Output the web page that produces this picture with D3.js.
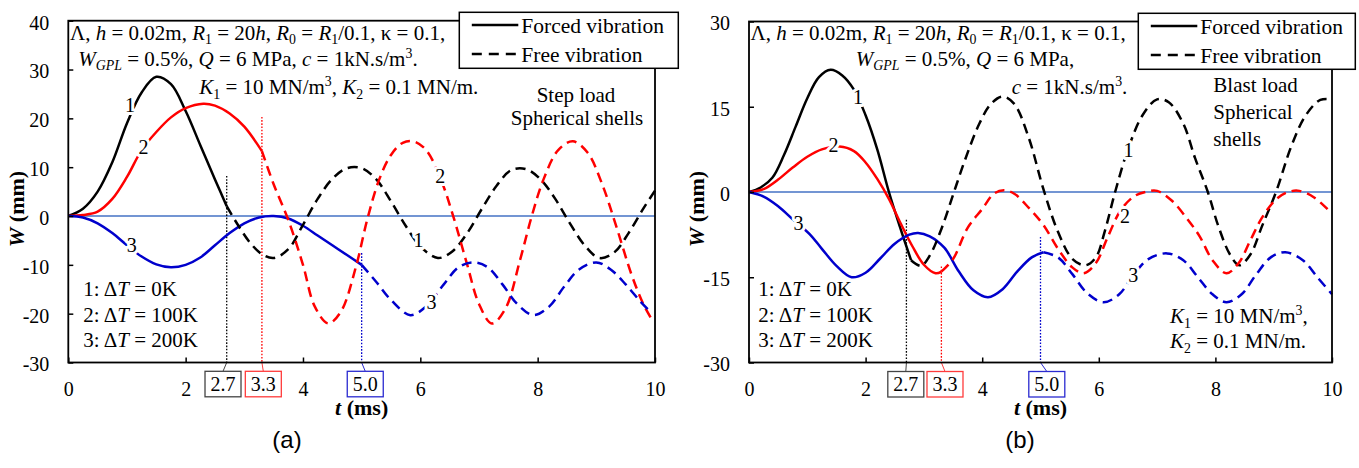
<!DOCTYPE html>
<html><head><meta charset="utf-8">
<script src="https://cdn.jsdelivr.net/npm/d3@7"></script>
<style>
body{margin:0;background:#fff}
svg{display:block}
text{font-family:"Liberation Serif","Times New Roman",Times,"DejaVu Serif",serif;fill:#000}
</style>
</head><body>
<svg id="chart" width="1359" height="468" font-family="'Liberation Serif','Times New Roman',Times,serif"></svg>
<script>
// ---------------- data ----------------
const xTicks = [0, 2, 4, 6, 8, 10];
const yTicksA = [-30, -20, -10, 0, 10, 20, 30, 40];
const yTicksB = [-30, -15, 0, 15, 30];
const switchTimes = [2.7, 3.3, 5.0];
const switchLabels = ["2.7", "3.3", "5.0"];
const curveNames = ["1", "2", "3"];
const deltaTs = ["0K", "100K", "200K"];
const seriesColors = ["#000000", "#ff0000", "#0000cc"];
const boxColors = ["#444444", "#ff3b3b", "#2a2ad0"];
const legendLabels = ["Forced vibration", "Free vibration"];

// panel (a): step load  [t (ms), W (mm)]
const aForced1 = [[0,0],[0.25,1.5],[0.5,5],[0.75,11],[1.0,19],[1.25,25.3],[1.5,28.5],[1.75,27],[2.0,21.5],[2.25,14.5],[2.5,7.5],[2.7,2]];
const aFree1 = [[2.7,2],[2.9,-2],[3.1,-5.5],[3.3,-7.8],[3.5,-8.6],[3.75,-6.8],[4.0,-1.8],[4.25,3.5],[4.5,7.6],[4.75,9.8],[5.0,9.8],[5.25,7.5],[5.5,3],[5.75,-2],[6.0,-6.2],[6.3,-8.6],[6.55,-7.2],[6.8,-3.5],[7.05,1.5],[7.3,6.2],[7.55,9.4],[7.8,9.6],[8.05,7.5],[8.3,3.5],[8.55,-1.5],[8.8,-6],[9.05,-8.6],[9.3,-7.5],[9.55,-3.5],[9.8,1.5],[10.0,5.2]];
const aForced2 = [[0,0],[0.25,0.2],[0.5,0.9],[0.75,3.5],[1.0,8],[1.25,13.5],[1.5,17.2],[1.75,20.2],[2.0,22.1],[2.3,23],[2.5,22.6],[2.75,21],[3.0,18.3],[3.3,13.3]];
const aFree2 = [[3.3,13.3],[3.5,6.5],[3.75,-0.8],[4.0,-10],[4.2,-18.5],[4.43,-22],[4.65,-19.5],[4.9,-10.5],[5.1,-0.5],[5.3,7.5],[5.5,12.5],[5.7,15],[5.88,15.3],[6.1,13.5],[6.35,7.5],[6.56,0],[6.8,-10],[7.0,-18],[7.22,-22],[7.45,-19],[7.7,-9],[7.9,0],[8.1,7.5],[8.35,13.5],[8.6,15.3],[8.85,13],[9.1,6.5],[9.35,-2.5],[9.6,-12],[9.8,-18],[9.95,-21.3]];
const aForced3 = [[0,0],[0.25,-0.3],[0.5,-1.5],[0.75,-3.5],[1.0,-6],[1.25,-8.3],[1.5,-9.9],[1.75,-10.5],[2.0,-10],[2.25,-8.5],[2.5,-6],[2.75,-3.5],[3.0,-1.5],[3.25,-0.3],[3.5,0],[3.75,-0.5],[4.0,-2],[4.25,-4],[4.5,-6],[4.75,-8],[5.0,-10]];
const aFree3 = [[5.0,-10],[5.25,-13.5],[5.5,-17.2],[5.83,-20.3],[6.1,-18.5],[6.4,-14],[6.65,-10.5],[6.9,-9.5],[7.15,-10.5],[7.4,-14],[7.65,-18],[7.93,-20.3],[8.2,-18.5],[8.45,-14.5],[8.7,-11],[9.0,-9.5],[9.25,-11],[9.5,-14],[9.75,-17.5],[9.95,-20]];
const aDropTops = [8.2, 20.3, -7.6];

// panel (b): blast load
const bForced1 = [[0,0],[0.2,0.8],[0.4,2.5],[0.6,6.5],[0.8,11.5],[1.0,16.5],[1.2,20.2],[1.4,21.5],[1.6,20.5],[1.8,18],[2.0,13.5],[2.2,7.5],[2.4,0],[2.6,-6.5],[2.78,-12]];
const bFree1 = [[2.78,-12],[2.95,-13],[3.1,-11.2],[3.3,-6.5],[3.5,-0.5],[3.7,5.5],[3.95,12],[4.15,15.5],[4.35,16.8],[4.55,15.5],[4.8,9.5],[5.05,0.5],[5.3,-7],[5.55,-11.8],[5.77,-12.9],[5.95,-11.5],[6.1,-7],[6.28,0],[6.5,7.5],[6.75,13.5],[7.0,16.3],[7.2,15.8],[7.45,12],[7.65,6],[7.87,0],[8.05,-6],[8.25,-11],[8.41,-12.9],[8.6,-11],[8.8,-6],[9.04,0],[9.3,8],[9.55,13.5],[9.8,16.2],[10,16.3]];
const bForced2 = [[0,0],[0.25,0.5],[0.5,2.2],[0.75,4.3],[1.0,6.2],[1.25,7.5],[1.55,8],[1.8,7.2],[2.0,5.2],[2.2,2.3],[2.4,-1.2],[2.6,-5.5],[2.8,-9.5],[3.0,-12.8],[3.2,-14.3],[3.3,-14]];
const bFree2 = [[3.3,-14],[3.5,-11.8],[3.75,-6.3],[4.0,-3],[4.2,-0.3],[4.37,0.3],[4.55,-0.3],[4.8,-2.8],[5.05,-5.8],[5.3,-10],[5.55,-13.3],[5.74,-14.3],[5.95,-12.5],[6.15,-8],[6.37,-3.3],[6.6,-0.8],[6.8,0],[7.0,0.2],[7.25,-1.5],[7.5,-4.5],[7.73,-7.8],[7.95,-12],[8.19,-14.3],[8.4,-12.5],[8.6,-8.5],[8.8,-4.5],[9.05,-1.2],[9.25,0],[9.44,0.2],[9.7,-1],[9.95,-3.3]];
const bForced3 = [[0,0],[0.25,-0.8],[0.5,-2.5],[0.75,-4.8],[1.04,-7.4],[1.25,-10],[1.5,-13],[1.76,-15],[2.0,-14.2],[2.25,-11.7],[2.5,-9.1],[2.75,-7.5],[2.9,-7.2],[3.1,-7.8],[3.35,-9.8],[3.6,-14],[3.85,-17.3],[4.1,-18.5],[4.35,-17.1],[4.6,-14],[4.85,-11.5],[5.05,-10.6]];
const bFree3 = [[5.05,-10.6],[5.3,-11.5],[5.55,-14.5],[5.8,-17.8],[6.08,-19.4],[6.35,-18],[6.6,-14.5],[6.85,-11.8],[7.17,-10.8],[7.45,-12],[7.7,-15],[7.95,-18],[8.19,-19.4],[8.45,-18],[8.7,-14.5],[8.95,-11.5],[9.2,-10.6],[9.5,-12],[9.75,-15],[10,-18]];
const bDropTops = [-4.9, -13.1, -7.9];

// ---------------- helpers ----------------
const svg = d3.select("#chart");

function rich(sel, parts, size) {
  let shift = 0;
  parts.forEach(p => {
    const s = p[0], f = p[1] || "";
    let target = 0, fs = size;
    if (f.includes("s")) { target = size * 0.22; fs = size * 0.66; }
    if (f.includes("p")) { target = -size * 0.38; fs = size * 0.66; }
    const ts = sel.append("tspan").text(s).attr("font-size", fs);
    if (target - shift !== 0) ts.attr("dy", target - shift);
    shift = target;
    if (f.includes("i")) ts.attr("font-style", "italic");
  });
  return sel;
}

function panel(cfg) {
  const g = svg.append("g");
  const x = d3.scaleLinear().domain([0, 10]).range([cfg.left, cfg.right]);
  const y = d3.scaleLinear().domain(cfg.yDomain).range([cfg.bottom, cfg.top]);
  const line = d3.line().x(d => x(d[0])).y(d => y(d[1])).curve(d3.curveCatmullRom.alpha(0.5));

  // zero line
  g.append("line").attr("x1", x(0)).attr("x2", x(10)).attr("y1", y(0)).attr("y2", y(0))
    .attr("stroke", "#4472c4").attr("stroke-width", 1.6);

  // dotted drop lines + boxes
  switchTimes.forEach((t, i) => {
    const xx = x(t);
    g.append("line").attr("x1", xx).attr("x2", xx).attr("y1", y(cfg.dropTops[i])).attr("y2", cfg.bottom)
      .attr("stroke", seriesColors[i]).attr("stroke-width", 1.3).attr("stroke-dasharray", "1.6,1.6");
    const bx = xx + cfg.boxOffsets[i];
    g.append("line").attr("x1", xx).attr("x2", bx).attr("y1", cfg.bottom).attr("y2", cfg.boxTop)
      .attr("stroke", boxColors[i]).attr("stroke-width", 1);
    g.append("rect").attr("x", bx - 18).attr("y", cfg.boxTop).attr("width", 36).attr("height", 25.5)
      .attr("fill", "#fff").attr("stroke", boxColors[i]).attr("stroke-width", 1.3);
    g.append("text").attr("x", bx).attr("y", cfg.boxTop + 19.5).attr("text-anchor", "middle")
      .attr("font-size", 20).text(switchLabels[i]);
  });

  // curves
  cfg.forced.forEach((d, i) => g.append("path").attr("d", line(d)).attr("fill", "none")
    .attr("stroke", seriesColors[i]).attr("stroke-width", 2.5));
  cfg.free.forEach((d, i) => g.append("path").attr("d", line(d)).attr("fill", "none")
    .attr("stroke", seriesColors[i]).attr("stroke-width", 2.5).attr("stroke-dasharray", "10,6"));

  // curve labels
  cfg.labels.forEach((l, k) => {
    g.append("text").attr("x", x(l[0])).attr("y", y(l[1]) + 7).attr("text-anchor", "middle")
      .attr("font-size", 20).attr("stroke", "#fff").attr("stroke-width", 6).attr("paint-order", "stroke")
      .attr("stroke-linejoin", "round").text(curveNames[k % 3]);
  });

  // axes
  const fmt = d => String(d);
  const ya = g.append("g").attr("transform", `translate(${cfg.left},0)`)
    .call(d3.axisLeft(y).tickValues(cfg.yTicks).tickSize(-5).tickPadding(19).tickFormat(fmt));
  const xa = g.append("g").attr("transform", `translate(0,${cfg.bottom})`)
    .call(d3.axisBottom(x).tickValues(xTicks).tickSize(-5).tickPadding(19.5).tickFormat(fmt));
  [ya, xa].forEach(a => {
    a.select(".domain").remove();
    a.attr("font-family", null).attr("font-size", null);
    a.selectAll("line").attr("stroke", "#000").attr("stroke-width", 1.5);
    a.selectAll("text").attr("font-size", 20);
  });
  ya.selectAll("text").attr("dy", "0.42em");

  // frame
  g.append("rect").attr("x", cfg.left).attr("y", cfg.top).attr("width", cfg.right - cfg.left)
    .attr("height", cfg.bottom - cfg.top).attr("fill", "none").attr("stroke", "#000").attr("stroke-width", 1.8);

  // axis titles
  const yt = g.append("text").attr("transform", `translate(${cfg.yTitleX},209) rotate(-90)`)
    .attr("text-anchor", "middle").attr("font-weight", "bold");
  rich(yt, [["W", "i"], [" (mm)"]], 22);
  const xt = g.append("text").attr("x", (cfg.left + cfg.right) / 2).attr("y", 415)
    .attr("text-anchor", "middle").attr("font-weight", "bold");
  rich(xt, [["t", "i"], [" (ms)"]], 22);

  // panel tag
  g.append("text").attr("x", cfg.tagX).attr("y", 448).attr("text-anchor", "middle")
    .style("font-family", "'Liberation Sans', Arial, sans-serif").attr("font-size", 24).text(cfg.tag);

  // annotation lines
  cfg.notes.forEach(n => rich(g.append("text").attr("x", n.x).attr("y", n.y), n.parts, 21));

  // ΔT list
  deltaTs.forEach((d, i) => rich(g.append("text").attr("x", cfg.dtX).attr("y", 296 + i * 25.7),
    [[(i + 1) + ": Δ"], ["T", "i"], [" = " + d]], 21));

  // legend
  const lg = g.append("g");
  lg.append("rect").attr("x", cfg.legend.x).attr("y", cfg.legend.y).attr("width", cfg.legend.w).attr("height", 56)
    .attr("fill", "#fff").attr("stroke", "#000").attr("stroke-width", 1.5);
  legendLabels.forEach((lab, i) => {
    const ly = cfg.legend.y + 12.7 + i * 29;
    lg.append("line").attr("x1", cfg.legend.x + 12.5).attr("x2", cfg.legend.x + 59).attr("y1", ly).attr("y2", ly)
      .attr("stroke", "#000").attr("stroke-width", 2.5).attr("stroke-dasharray", i ? "10,7" : null);
    lg.append("text").attr("x", cfg.legend.x + 62).attr("y", ly + 7.5).attr("font-size", 21.5).text(lab);
  });

  return { g, x, y };
}

const lineA1 = [["Λ, "], ["h", "i"], [" = 0.02m, "], ["R", "i"], ["1", "s"], [" = 20"], ["h", "i"], [", "], ["R", "i"], ["0", "s"], [" = "], ["R", "i"], ["1", "s"], ["/0.1, κ = 0.1,"]];

const A = panel({
  left: 68.3, right: 655, top: 20.7, bottom: 362.5, yDomain: [-30, 40], yTicks: yTicksA,
  forced: [aForced1, aForced2, aForced3], free: [aFree1, aFree2, aFree3],
  dropTops: aDropTops, boxOffsets: [-3.7, 1.4, 3.6], boxTop: 371.3,
  labels: [[1.05, 22.7], [1.28, 14.2], [1.08, -5.9], [5.97, -4.9], [6.34, 8.2], [6.19, -17.6]],
  yTitleX: 24, tag: "(a)", tagX: 287, dtX: 83.3,
  legend: { x: 459.3, y: 12.3, w: 219 },
  notes: [
    { x: 70, y: 39.5, parts: lineA1 },
    { x: 78.3, y: 65.7, parts: [["W", "i"], ["GPL", "is"], [" = 0.5%, "], ["Q", "i"], [" = 6 MPa, "], ["c", "i"], [" = 1kN.s/m"], ["3", "p"], ["."]] },
    { x: 199.3, y: 94.3, parts: [["K", "i"], ["1", "s"], [" = 10 MN/m"], ["3", "p"], [", "], ["K", "i"], ["2", "s"], [" = 0.1 MN/m."]] }
  ]
});
A.g.append("text").attr("x", 576).attr("y", 101.7).attr("text-anchor", "middle").attr("font-size", 21).text("Step load");
A.g.append("text").attr("x", 577).attr("y", 125).attr("text-anchor", "middle").attr("font-size", 21).text("Spherical shells");

const B = panel({
  left: 749, right: 1332, top: 21.5, bottom: 362.5, yDomain: [-30, 30], yTicks: yTicksB,
  forced: [bForced1, bForced2, bForced3], free: [bFree1, bFree2, bFree3],
  dropTops: bDropTops, boxOffsets: [-0.6, 3.6, 6.3], boxTop: 371.5,
  labels: [[1.87, 16.8], [1.45, 8.3], [0.85, -5.5], [6.51, 7.4], [6.45, -4.3], [6.59, -14.6]],
  yTitleX: 704, tag: "(b)", tagX: 1020, dtX: 758.3,
  legend: { x: 1138.3, y: 13.3, w: 217 },
  notes: [
    { x: 750.5, y: 39.5, parts: lineA1 },
    { x: 855.7, y: 65.7, parts: [["W", "i"], ["GPL", "is"], [" = 0.5%, "], ["Q", "i"], [" = 6 MPa,"]] },
    { x: 1011.7, y: 94.3, parts: [["c", "i"], [" = 1kN.s/m"], ["3", "p"], ["."]] },
    { x: 1170, y: 323, parts: [["K", "i"], ["1", "s"], [" = 10 MN/m"], ["3", "p"], [","]] },
    { x: 1170, y: 348, parts: [["K", "i"], ["2", "s"], [" = 0.1 MN/m."]] }
  ]
});
["Blast load", "Spherical", "shells"].forEach((s, i) =>
  B.g.append("text").attr("x", 1213.3).attr("y", 91.7 + i * 27).attr("font-size", 21).text(s));
</script>
</body></html>
